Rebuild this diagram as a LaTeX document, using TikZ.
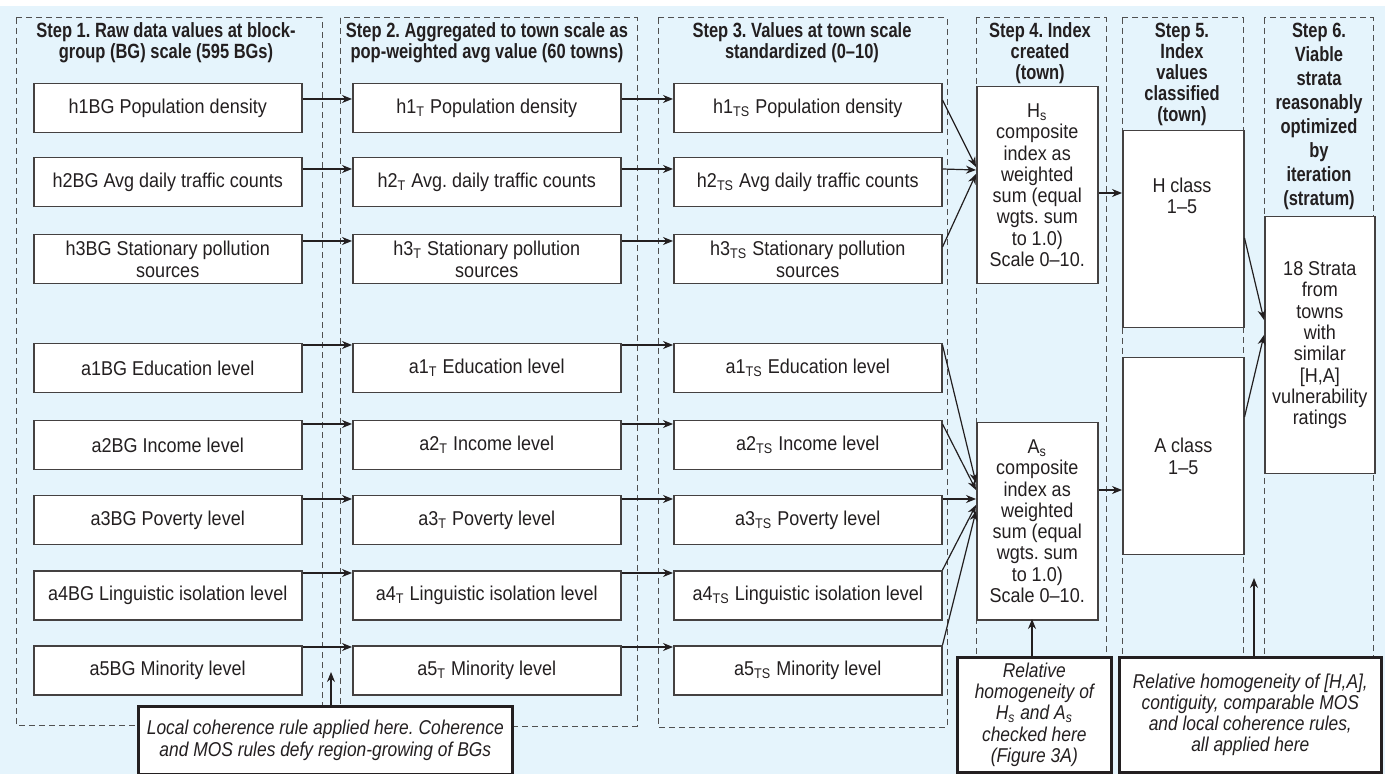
\documentclass[tikz,border=0pt]{standalone}
\usepackage{fontspec}
\setmainfont[FakeStretch=0.9]{Liberation Sans}
\newfontfamily\titlefont[FakeStretch=0.8]{Liberation Sans}
\newfontfamily\calloutfont[FakeStretch=0.87]{Liberation Sans}
\usetikzlibrary{arrows.meta,calc}
\definecolor{bgblue}{RGB}{229,244,252}
\definecolor{ink}{RGB}{35,31,32}
\definecolor{dashgray}{RGB}{80,80,80}
\frenchspacing
\begin{document}
\begin{tikzpicture}[x=0.5pt,y=-0.5pt,
  txt/.style={font=\fontsize{10}{10.65}\selectfont, text=ink, align=center, inner sep=0pt},
  box/.style={txt, draw=ink!85, line width=0.75pt, fill=white, anchor=north west},
  rowbox/.style={box, minimum width=134pt, minimum height=24.5pt},
  colbox/.style={box, minimum width=60.5pt, minimum height=98.5pt},
  frame/.style={draw=dashgray, line width=0.5pt, dash pattern=on 3pt off 2pt},
  title/.style={font=\titlefont\bfseries\fontsize{10.3}{10.5}\selectfont, text=ink, align=center, inner sep=0pt},
  callout/.style={draw=ink, line width=1.3pt, fill=white, font=\calloutfont\itshape\fontsize{10}{10.65}\selectfont, text=ink, align=center, inner sep=0pt, anchor=north west},
  arr/.style={draw=ink, line width=0.6pt, -{Stealth[length=5pt,width=4pt]}},
]
\useasboundingbox (0,0) rectangle (1386,774);
\fill[bgblue] (0,6) rectangle (1385,774);

% dashed step frames
\draw[frame] (16,18) rectangle (322,725);
\draw[frame] (340,18) rectangle (637,726);
\draw[frame] (658,18) rectangle (947,727);
\draw[frame] (976,18) rectangle (1106,700);
\draw[frame] (1122,18) rectangle (1243,700);
\draw[frame] (1264,18) rectangle (1373,700);

% titles
\node[title] (t1) at (166,43) {Step 1. Raw data values at block-\\group (BG) scale (595 BGs)};
\node[title] (t2) at (487,43) {Step 2. Aggregated to town scale as\\pop-weighted avg value (60 towns)};
\node[title] (t3) at (802,43) {Step 3. Values at town scale\\standardized (0–10)};
\node[title] (t4) at (1040,53) {Step 4. Index\\created\\(town)};
\node[title] (t5) at (1182,74) {Step 5.\\Index\\values\\classified\\(town)};
\node[title, font=\titlefont\bfseries\fontsize{10.3}{12}\selectfont] (t6) at (1319,116) {Step 6.\\Viable\\strata\\reasonably\\optimized\\by\\iteration\\(stratum)};

% column 1
\node[rowbox] (b1h1) at (33,83) {h1BG Population density};
\node[rowbox] (b1h2) at (33,157) {h2BG Avg daily traffic counts};
\node[rowbox] (b1h3) at (33,234) {h3BG Stationary pollution\\sources};
\node[rowbox] (b1a1) at (33,343) {a1BG Education level};
\node[rowbox] (b1a2) at (33,420) {a2BG Income level};
\node[rowbox] (b1a3) at (33,495) {a3BG Poverty level};
\node[rowbox] (b1a4) at (33,570) {a4BG Linguistic isolation level};
\node[rowbox] (b1a5) at (33,645) {a5BG Minority level};

% column 2
\node[rowbox] (b2h1) at (352,83) {h1\textsubscript{T} Population density};
\node[rowbox] (b2h2) at (352,157) {h2\textsubscript{T} Avg. daily traffic counts};
\node[rowbox] (b2h3) at (352,234) {h3\textsubscript{T} Stationary pollution\\sources};
\node[rowbox] (b2a1) at (352,343) {a1\textsubscript{T} Education level};
\node[rowbox] (b2a2) at (352,420) {a2\textsubscript{T} Income level};
\node[rowbox] (b2a3) at (352,495) {a3\textsubscript{T} Poverty level};
\node[rowbox] (b2a4) at (352,570) {a4\textsubscript{T} Linguistic isolation level};
\node[rowbox] (b2a5) at (352,645) {a5\textsubscript{T} Minority level};

% column 3
\node[rowbox] (b3h1) at (673,83) {h1\textsubscript{TS} Population density};
\node[rowbox] (b3h2) at (673,157) {h2\textsubscript{TS} Avg daily traffic counts};
\node[rowbox] (b3h3) at (673,234) {h3\textsubscript{TS} Stationary pollution\\sources};
\node[rowbox] (b3a1) at (673,343) {a1\textsubscript{TS} Education level};
\node[rowbox] (b3a2) at (673,420) {a2\textsubscript{TS} Income level};
\node[rowbox] (b3a3) at (673,495) {a3\textsubscript{TS} Poverty level};
\node[rowbox] (b3a4) at (673,570) {a4\textsubscript{TS} Linguistic isolation level};
\node[rowbox] (b3a5) at (673,645) {a5\textsubscript{TS} Minority level};

% step 4
\node[colbox] (Hs) at (976,86) {H\textsubscript{s}\\composite\\index as\\weighted\\sum (equal\\wgts. sum\\to 1.0)\\Scale 0–10.};
\node[colbox] (As) at (976,422) {A\textsubscript{s}\\composite\\index as\\weighted\\sum (equal\\wgts. sum\\to 1.0)\\Scale 0–10.};

% step 5
\node[colbox] (Hc) at (1122,130) {};
\node[txt] (HcT) at (1182,196) {H class\\1–5};
\node[colbox] (Ac) at (1122,357) {A class\\1–5};

% step 6
\node[box, minimum width=55pt, minimum height=128.5pt] (St) at (1264,216) {18 Strata\\from\\towns\\with\\similar\\{}[H,A]\\vulnerability\\ratings};

% row arrows
\foreach \r/\o in {h1/16,h2/12,h3/7,a1/2,a2/4,a3/4,a4/3,a5/2}{
  \draw[arr] ($(b1\r.north east)+(0,\o)$) -- ($(b2\r.north west)+(0,\o)$);
  \draw[arr] ($(b2\r.north east)+(0,\o)$) -- ($(b3\r.north west)+(0,\o)$);
}

% converging arrows to Hs
\draw[arr] ($(b3h1.north east)+(0,17)$) -- ($(Hs.north west)+(0,81)$);
\draw[arr] ($(b3h2.north east)+(0,12)$) -- ($(Hs.north west)+(0,84)$);
\draw[arr] ($(b3h3.north east)+(0,13)$) -- ($(Hs.north west)+(0,88)$);

% converging arrows to As
\draw[arr] ($(b3a1.north east)+(0,2)$) -- ($(As.north west)+(0,61)$);
\draw[arr] ($(b3a2.north east)+(0,4)$) -- ($(As.north west)+(0,68)$);
\draw[arr] ($(b3a3.north east)+(0,4)$) -- ($(As.north west)+(0,77)$);
\draw[arr] ($(b3a4.north east)+(0,0)$) -- ($(As.north west)+(0,83)$);
\draw[arr] ($(b3a5.north east)+(0,0)$) -- ($(As.north west)+(0,89)$);

% step 4 -> step 5
\draw[arr] ($(Hs.north east)+(0,107)$) -- ($(Hc.north west)+(0,63)$);
\draw[arr] ($(As.north east)+(0,68)$) -- ($(Ac.north west)+(0,133)$);

% step 5 -> step 6
\draw[arr] ($(Hc.north east)+(0,108)$) -- ($(St.north west)+(0,104)$);
\draw[arr] ($(Ac.north east)+(0,60)$) -- ($(St.north west)+(0,119)$);

% callouts
\node[callout, minimum width=187pt, minimum height=34pt] (co1) at (137,705) {Local coherence rule applied here. Coherence\\and MOS rules defy region-growing of BGs};
\node[callout, minimum width=77pt, minimum height=57.5pt] (co2) at (956,656) {Relative\\homogeneity of\\H\textsubscript{s} and A\textsubscript{s}\\checked here\\(Figure 3A)};
\node[callout, minimum width=131pt, minimum height=57.5pt] (co3) at (1118,656) {Relative homogeneity of [H,A],\\contiguity, comparable MOS\\and local coherence rules,\\all applied here};

\coordinate (tipA) at (331,672);
\coordinate (tipB) at (1254,578);
\coordinate (tipC) at (1032,619);
\draw[arr] (co1.north -| tipA) -- (tipA);
\draw[arr] (co2.north -| tipC) -- (tipC);
\draw[arr] (co3.north -| tipB) -- (tipB);
\end{tikzpicture}
\end{document}
